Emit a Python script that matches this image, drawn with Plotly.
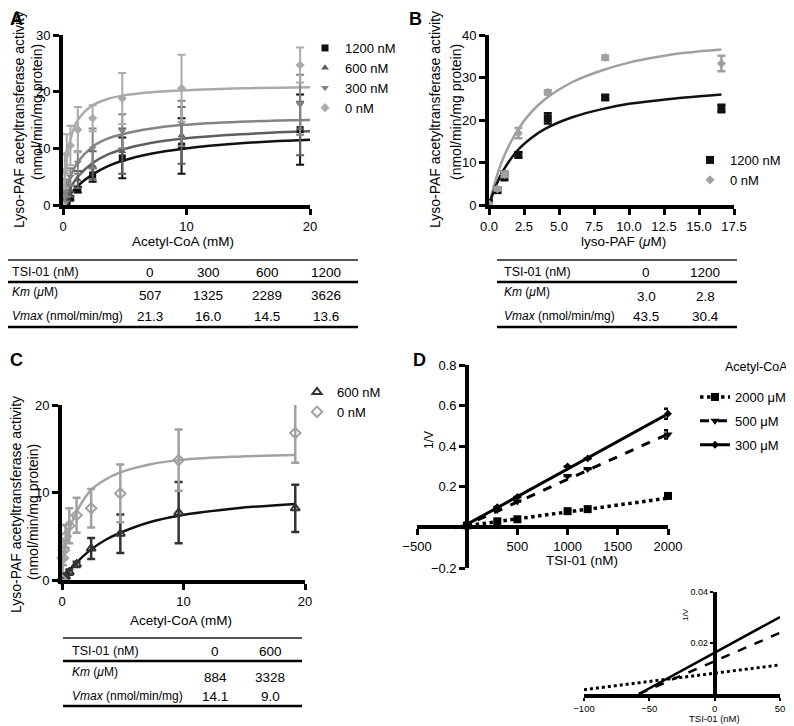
import plotly.graph_objects as go

# the page body has an 8px margin, so the figure is drawn 8px in from the window corner
OX, OY = 8, 8
W, H = 794 - OX, 726 - OY
FONT = "Liberation Sans, Arial, sans-serif"

# ---------------- Panel A : acetyl-CoA (mM) at several TSI-01 doses
a_x = [0, 0.15, 0.3, 0.6, 1.2, 2.4, 4.8, 9.6, 19.2]
a_y_1200 = [0, 0.3, 0.6, 1.2, 2.7, 5.3, 8.3, 10.4, 13.3]
a_e_1200 = [0, 0.2, 0.3, 0.3, 0.5, 1.2, 3.6, 4.9, 6.2]
a_y_600 = [0, 0.8, 1.5, 2.5, 4.5, 7.0, 9.5, 12.3, 13.5]
a_e_600 = [0, 0.5, 0.7, 1.0, 1.5, 2.5, 4.0, 5.0, 4.7]
a_y_300 = [0, 1.5, 3.0, 5.0, 7.5, 10.0, 13.0, 14.4, 17.7]
a_e_300 = [0, 1.0, 1.5, 1.5, 2.0, 3.5, 3.0, 4.0, 5.3]
a_y_0 = [0, 6.0, 9.0, 10.5, 13.3, 15.3, 18.8, 20.6, 24.7]
a_e_0 = [0, 3.0, 3.5, 3.5, 4.0, 2.3, 4.5, 5.9, 3.1]
# fitted curves
a_fx = [0, 0.15, 0.3, 0.6, 1.2, 2.4, 3.6, 4.8, 7.2, 9.6, 14.4, 20]
a_f_1200 = [0, 0.5, 1.0, 1.9, 3.4, 5.4, 6.8, 7.8, 9.1, 9.9, 10.9, 11.5]
a_f_600 = [0, 0.9, 1.7, 3.0, 5.0, 7.4, 8.9, 9.8, 11.0, 11.7, 12.5, 13.0]
a_f_300 = [0, 1.6, 3.0, 5.0, 7.6, 10.3, 11.7, 12.5, 13.5, 14.1, 14.7, 15.0]
a_f_0 = [0, 4.9, 7.9, 11.6, 15.0, 17.6, 18.7, 19.3, 19.9, 20.2, 20.6, 20.8]
tab_a_tsi = ["0", "300", "600", "1200"]
tab_a_km = ["507", "1325", "2289", "3626"]
tab_a_vmax = ["21.3", "16.0", "14.5", "13.6"]

# ---------------- Panel B : lyso-PAF (uM)
b_x = [0, 0.6, 1.1, 2.1, 4.2, 8.3, 16.6]
b_y_1200 = [0.5, 3.5, 6.8, 11.8, 20.4, 25.3, 22.7]
b_e_1200 = [0.3, 0.5, 1.0, 0.6, 1.2, 0.5, 0.9]
b_y_0 = [0.3, 3.8, 7.2, 16.9, 26.5, 34.7, 33.3]
b_e_0 = [0.2, 0.4, 0.6, 1.2, 0.5, 0.5, 1.8]
b_fx = [0, 0.5, 1, 2, 3, 4, 6, 8, 10, 12, 14, 16.6]
b_f_1200 = [0, 4.6, 8.0, 12.7, 15.7, 17.9, 20.7, 22.5, 23.8, 24.6, 25.3, 26.0]
b_f_0 = [0, 6.2, 10.9, 17.4, 21.8, 24.9, 29.0, 31.6, 33.5, 34.8, 35.8, 36.6]
tab_b_tsi = ["0", "1200"]
tab_b_km = ["3.0", "2.8"]
tab_b_vmax = ["43.5", "30.4"]

# ---------------- Panel C : acetyl-CoA (mM), 600 nM vs 0 nM
c_x = [0, 0.075, 0.15, 0.3, 0.6, 1.2, 2.4, 4.8, 9.6, 19.2]
c_y_600 = [0, 0.2, 0.3, 0.4, 0.9, 1.8, 3.6, 5.3, 7.7, 8.2]
c_e_600 = [0, 0.1, 0.1, 0.2, 0.3, 0.3, 1.2, 2.2, 3.5, 2.7]
c_y_0 = [0, 2.5, 3.4, 5.0, 6.2, 7.4, 8.2, 9.9, 13.7, 16.8]
c_e_0 = [0, 0.8, 1.0, 1.3, 2.0, 2.0, 2.2, 3.3, 3.5, 3.4]
c_fx = [0, 0.15, 0.3, 0.6, 1.2, 2.4, 3.6, 4.8, 7.2, 9.6, 14.4, 19.2]
c_f_600 = [0, 0.3, 0.6, 1.1, 2.0, 3.5, 4.6, 5.4, 6.6, 7.35, 8.2, 8.7]
c_f_0 = [0, 2.8, 4.2, 5.8, 7.8, 10.3, 11.5, 12.3, 13.2, 13.7, 14.1, 14.3]
tab_c_tsi = ["0", "600"]
tab_c_km = ["884", "3328"]
tab_c_vmax = ["14.1", "9.0"]

# ---------------- Panel D : Dixon plot, 1/V vs TSI-01 (nM)
d_x = [0, 300, 500, 1000, 1200, 2000]
d_y_2000 = [0.01, 0.03, 0.04, 0.08, 0.09, 0.155]
d_y_500 = [0.015, 0.086, 0.127, 0.253, 0.288, 0.458]
d_e_500 = [0, 0, 0, 0, 0, 0.02]
d_y_300 = [0.02, 0.10, 0.15, 0.30, 0.34, 0.56]
d_e_300 = [0, 0, 0, 0, 0, 0.025]
d_line_2000_x = [-123, 2000]
d_line_2000_y = [0, 0.144]
d_line_500_x = [-60, 2000]
d_line_500_y = [0, 0.46]
d_line_300_x = [-57, 2000]
d_line_300_y = [0, 0.56]
# inset (zoom around the intersection)
i_line_2000_x = [-100, 50]
i_line_2000_y = [0.0017, 0.0114]
i_line_500_x = [-58, 50]
i_line_500_y = [0, 0.024]
i_line_300_x = [-58, 50]
i_line_300_y = [0, 0.0302]


def px(x):
    return (x - OX) / W


def py(y):
    return 1 - (y - OY) / H


fig = go.Figure()

# ---- A
a_cols = {"1200": "#111111", "600": "#5f5f5f", "300": "#848484", "0": "#aaaaaa"}
for name, fy in [("0", a_f_0), ("300", a_f_300), ("600", a_f_600), ("1200", a_f_1200)]:
    fig.add_trace(go.Scatter(x=a_fx, y=fy, mode="lines", xaxis="x", yaxis="y",
                             line=dict(color=a_cols[name], width=2.5, shape="spline"),
                             showlegend=False, hoverinfo="skip"))
for name, sym, yy, ee in [("1200", "square", a_y_1200, a_e_1200),
                          ("600", "triangle-up", a_y_600, a_e_600),
                          ("300", "triangle-down", a_y_300, a_e_300),
                          ("0", "diamond", a_y_0, a_e_0)]:
    fig.add_trace(go.Scatter(x=a_x, y=yy, mode="markers", xaxis="x", yaxis="y",
                             name=name + " nM", legend="legend", cliponaxis=False,
                             marker=dict(symbol=sym, size=7, color=a_cols[name]),
                             error_y=dict(type="data", array=ee, color=a_cols[name],
                                          thickness=2, width=4)))

# ---- B
b_cols = {"1200": "#111111", "0": "#a0a0a0"}
for name, fy in [("0", b_f_0), ("1200", b_f_1200)]:
    fig.add_trace(go.Scatter(x=b_fx, y=fy, mode="lines", xaxis="x2", yaxis="y2",
                             line=dict(color=b_cols[name], width=2.5, shape="spline"),
                             showlegend=False, hoverinfo="skip"))
for name, sym, yy, ee in [("1200", "square", b_y_1200, b_e_1200),
                          ("0", "diamond", b_y_0, b_e_0)]:
    fig.add_trace(go.Scatter(x=b_x, y=yy, mode="markers", xaxis="x2", yaxis="y2",
                             name=name + " nM", legend="legend2", cliponaxis=False,
                             marker=dict(symbol=sym, size=8 if sym == "square" else 7,
                                         color=b_cols[name]),
                             error_y=dict(type="data", array=ee, color=b_cols[name],
                                          thickness=2.5, width=4)))

# ---- C
for fy, col in [(c_f_0, "#a3a3a3"), (c_f_600, "#111111")]:
    fig.add_trace(go.Scatter(x=c_fx, y=fy, mode="lines", xaxis="x3", yaxis="y3",
                             line=dict(color=col, width=2.5, shape="spline"),
                             showlegend=False, hoverinfo="skip"))
for name, sym, yy, ee, col in [("600", "triangle-up-open", c_y_600, c_e_600, "#333333"),
                               ("0", "diamond-open", c_y_0, c_e_0, "#a0a0a0")]:
    fig.add_trace(go.Scatter(x=c_x, y=yy, mode="markers", xaxis="x3", yaxis="y3",
                             name=name + " nM", legend="legend3", cliponaxis=False,
                             marker=dict(symbol=sym, size=8, color=col, line=dict(width=2, color=col)),
                             error_y=dict(type="data", array=ee, color=col, thickness=2.5, width=4)))

# ---- D
d_styles = [("2000 μM", "dot", "square", 8, d_line_2000_x, d_line_2000_y, d_y_2000, None,
             i_line_2000_x, i_line_2000_y),
            ("500 μM", "dash", "triangle-down", 8, d_line_500_x, d_line_500_y, d_y_500, d_e_500,
             i_line_500_x, i_line_500_y),
            ("300 μM", "solid", "diamond", 6, d_line_300_x, d_line_300_y, d_y_300, d_e_300,
             i_line_300_x, i_line_300_y)]
for i, (name, dash, sym, ms, lx, ly, yy, ee, ix, iy) in enumerate(d_styles):
    lw = 3.5 if dash == "dot" else 3
    fig.add_trace(go.Scatter(x=lx, y=ly, mode="lines", xaxis="x4", yaxis="y4",
                             line=dict(color="black", width=lw, dash=dash),
                             showlegend=False, hoverinfo="skip"))
    err = dict(type="data", array=ee, color="black", thickness=2.5, width=4) if ee else None
    fig.add_trace(go.Scatter(x=d_x, y=yy, mode="markers", xaxis="x4", yaxis="y4",
                             marker=dict(symbol=sym, size=ms, color="black"),
                             error_y=err, showlegend=False, cliponaxis=False))
    # legend-only entry (line + marker sample)
    fig.add_trace(go.Scatter(x=[None], y=[None], mode="lines+markers", xaxis="x4", yaxis="y4",
                             name=name, legend="legend4", legendgroup="g%d" % i,
                             line=dict(color="black", width=lw, dash=dash),
                             marker=dict(symbol=sym, size=ms, color="black")))
    fig.add_trace(go.Scatter(x=ix, y=iy, mode="lines", xaxis="x5", yaxis="y5",
                             line=dict(color="black", width=2.5 if dash != "dot" else 3, dash=dash),
                             showlegend=False, hoverinfo="skip"))

# ---------------- axes
ax = dict(showline=True, linewidth=4, linecolor="black", ticks="outside", ticklen=6,
          tickwidth=3, tickcolor="black", showgrid=False, zeroline=False, automargin=False,
          tickfont=dict(family=FONT, size=13, color="black"))

a_xd = [px(63), px(310)]
a_yd = [py(205), py(35)]
b_xd = [px(489), px(734)]
c_xd = [px(62), px(305)]
c_yd = [py(580), py(405)]
d_xd = [px(417), px(668)]
d_yd = [py(568), py(365)]
i_xd = [px(584), px(780)]
i_yd = [py(694), py(592)]

d_xr = [-500, 2000]
d_yr = [-0.2, 0.8]
i_xr = [-100, 50]
d_xpos = d_yd[0] + (0 - d_yr[0]) / (d_yr[1] - d_yr[0]) * (d_yd[1] - d_yd[0])
d_ypos = d_xd[0] + (0 - d_xr[0]) / (d_xr[1] - d_xr[0]) * (d_xd[1] - d_xd[0])
i_ypos = i_xd[0] + (0 - i_xr[0]) / (i_xr[1] - i_xr[0]) * (i_xd[1] - i_xd[0])

fig.update_layout(
    xaxis=dict(ax, domain=a_xd, range=[0, 20], tickvals=[0, 10, 20], anchor="y"),
    yaxis=dict(ax, domain=a_yd, range=[0, 30], tickvals=[0, 10, 20, 30], anchor="x"),
    xaxis2=dict(ax, domain=b_xd, range=[0, 17.5], tickvals=[0, 2.5, 5, 7.5, 10, 12.5, 15, 17.5],
                tickformat=".1f", anchor="y2"),
    yaxis2=dict(ax, domain=a_yd, range=[0, 40], tickvals=[0, 10, 20, 30, 40], anchor="x2"),
    xaxis3=dict(ax, domain=c_xd, range=[0, 20], tickvals=[0, 10, 20], anchor="y3"),
    yaxis3=dict(ax, domain=c_yd, range=[0, 20], tickvals=[0, 10, 20], anchor="x3"),
    xaxis4=dict(ax, domain=d_xd, range=d_xr, tickvals=[-500, 500, 1000, 1500, 2000],
                anchor="free", position=d_xpos),
    yaxis4=dict(ax, domain=d_yd, range=d_yr, tickvals=[-0.2, 0.2, 0.4, 0.6, 0.8],
                anchor="free", position=d_ypos),
    xaxis5=dict(ax, domain=i_xd, range=i_xr, tickvals=[-100, -50, 0, 50], anchor="y5",
                linewidth=3.5, ticklen=3, tickwidth=2, tickfont=dict(family=FONT, size=9.5)),
    yaxis5=dict(ax, domain=i_yd, range=[0, 0.04], tickvals=[0.02, 0.04], anchor="free",
                position=i_ypos, linewidth=3.5, ticklen=3, tickwidth=2,
                tickfont=dict(family=FONT, size=9)),
)

leg = dict(xanchor="left", yanchor="top", bgcolor="rgba(0,0,0,0)", borderwidth=0,
           font=dict(family=FONT, size=13, color="black"), itemclick=False)
fig.update_layout(
    legend=dict(leg, x=px(305), y=py(33)),
    legend2=dict(leg, x=px(690), y=py(145)),
    legend3=dict(leg, x=px(297), y=py(377)),
    legend4=dict(leg, x=px(695), y=py(382), traceorder="grouped", tracegroupgap=4),
)

# ---------------- text
ann = []


def text(x, y, s, size=13, anchor="center", angle=0, bold=False):
    ann.append(dict(x=px(x), y=py(y), xref="paper", yref="paper", text="<b>%s</b>" % s if bold else s,
                    showarrow=False, xanchor=anchor, yanchor="middle", textangle=angle,
                    font=dict(family=FONT, size=size, color="black")))


for lab, x, y in [("A", 8, 19), ("B", 407, 19), ("C", 8, 360), ("D", 411, 360)]:
    text(x, y, lab, size=18, anchor="left", bold=True)

ytitle = "Lyso-PAF acetyltransferase activity"
ysub = "(nmol/min/mg protein)"
text(19, 120, ytitle, size=14, angle=-90)
text(37, 112, ysub, size=14, angle=-90)
text(435, 120, ytitle, size=14, angle=-90)
text(456, 112, ysub, size=14, angle=-90)
text(16, 505, ytitle, size=14, angle=-90)
text(33, 512, ysub, size=14, angle=-90)
text(429, 440, "1/V", size=12, angle=-90)
text(685, 615, "1/V", size=8, angle=-90)

text(183, 242, "Acetyl-CoA (mM)", size=13.5)
text(623, 242, "lyso-PAF (<i>μ</i>M)", size=13.5)
text(181, 620, "Acetyl-CoA (mM)", size=13.5)
text(582, 560, "TSI-01 (nM)", size=13.5)
text(714, 718, "TSI-01 (nM)", size=9.5)
text(790, 367, "Acetyl-CoA", size=12.5, anchor="right")

shapes = []


def hline(x0, x1, y, w=2.5, col="black"):
    shapes.append(dict(type="line", xref="paper", yref="paper", x0=px(x0), x1=px(x1),
                       y0=py(y), y1=py(y), line=dict(color=col, width=w)))


def table(x0, x1, lx, cols, tsi, km, vmax, ys):
    top, mid, bot, yh, ykl, ykv, yv = ys
    hline(x0, x1, top, 2, "#555555")
    hline(x0, x1, mid)
    hline(x0, x1, bot)
    text(lx, yh, "TSI-01 (nM)", size=12.5, anchor="left")
    text(lx, ykl, "<i>Km</i> (<i>μ</i>M)", size=12, anchor="left")
    text(lx, yv, "<i>Vmax</i> (nmol/min/mg)", size=12, anchor="left")
    for cx, t, k, v in zip(cols, tsi, km, vmax):
        text(cx, yh, t, size=13.5)
        text(cx, ykv, k, size=13.5)
        text(cx, yv, v, size=13.5)


table(8, 358, 10, [150, 208, 267, 326], tab_a_tsi, tab_a_km, tab_a_vmax,
      (260, 282, 327, 272, 292, 295.5, 316))
table(497, 737, 502, [646, 705], tab_b_tsi, tab_b_km, tab_b_vmax,
      (260, 282, 327, 272, 292, 296.5, 316.5))
table(63, 302, 70, [215, 270], tab_c_tsi, tab_c_km, tab_c_vmax,
      (638, 661, 706, 651, 672, 677, 696))

fig.update_layout(
    annotations=ann,
    shapes=shapes,
    width=W, height=H,
    margin=dict(l=0, r=0, t=0, b=0),
    paper_bgcolor="white",
    plot_bgcolor="white",
    font=dict(family=FONT, color="black"),
)

fig.write_html("out.html")
